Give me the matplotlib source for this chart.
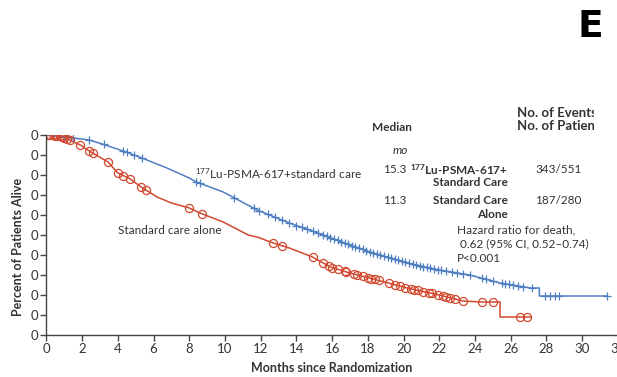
import numpy as np
import matplotlib
matplotlib.use("Agg")
import matplotlib.pyplot as plt
from matplotlib.transforms import Bbox, TransformedBbox

plt.rcParams['font.family'] = ['Lato', 'DejaVu Sans']
plt.rcParams['mathtext.default'] = 'regular'

# Kaplan-Meier curves (months, percent alive)
lu_months = [0, 0.8, 1.5, 2.4, 3.3, 4.3, 5.35, 6.75, 8.0, 8.4, 9.9, 11.8, 13.6,
             15.5, 16.4, 17.0, 18.3, 20.2, 22.0, 23.7, 25.4, 27.1, 27.6, 27.6, 31.4]
lu_pct = [100, 99.5, 98.5, 97.5, 95, 92, 88.5, 83.5, 78.5, 76.5, 71.5, 62.5, 56,
          50, 47, 45, 41, 36, 32.5, 30, 26, 23.5, 23.5, 19.5, 19.5]

sc_months = [0, 0.8, 1.3, 1.9, 2.4, 3.45, 4.0, 4.7, 5.3, 6.2, 7.0, 8.0, 8.6, 9.9,
             11.3, 11.8, 12.7, 13.6, 14.9, 15.9, 16.8, 18.3, 20.2, 22.0, 23.3,
             24.4, 25.4, 25.4, 27.1]
sc_pct = [100, 99.5, 97.5, 95, 92, 86.5, 81, 78, 74, 69, 66, 63.5, 61, 56.5,
          50, 49, 46, 43.5, 39, 34, 31.5, 28, 23.5, 20, 17, 16.5, 16.5, 9, 9]

# censoring times
lu_censor = [0.3, 0.6, 1.0, 1.5, 2.4, 3.2, 4.3, 4.5, 4.9, 5.35, 8.4, 8.6,
             10.5, 11.6, 11.9, 12.4, 12.8, 13.2, 13.6, 14.0, 14.3, 14.6, 14.9,
             15.2, 15.5, 15.7, 15.9, 16.1, 16.3, 16.5, 16.7, 16.9, 17.1, 17.3,
             17.5, 17.7, 17.9, 18.1, 18.3, 18.5, 18.7, 18.9, 19.1, 19.3, 19.5,
             19.7, 19.9, 20.1, 20.3, 20.5, 20.7, 20.9, 21.1, 21.3, 21.5, 21.7,
             21.9, 22.1, 22.4, 22.7, 23.0, 23.3, 23.7, 24.4, 24.6, 25.0, 25.5,
             25.7, 25.9, 26.1, 26.4, 26.7, 27.2, 27.9, 28.2, 28.5, 28.7, 31.4]
sc_censor = [0.1, 0.2, 0.35, 0.5, 0.6, 0.75, 0.9, 1.0, 1.15, 1.3, 1.9, 2.4,
             2.6, 3.45, 4.0, 4.3, 4.7, 5.3, 5.6, 8.0, 8.7, 12.7, 13.2, 14.9,
             15.5, 15.8, 16.0, 16.3, 16.7, 16.8, 17.2, 17.4, 17.7, 18.0, 18.2,
             18.4, 18.6, 19.2, 19.5, 19.8, 20.1, 20.4, 20.6, 20.8, 21.1, 21.4,
             21.6, 21.9, 22.2, 22.4, 22.6, 22.9, 23.3, 24.4, 25.0, 26.5, 26.9]

x_ticks = list(range(0, 33, 2))
y_ticks = list(range(0, 101, 10))
y_tick_labels = ['0'] * len(y_ticks)

blue = '#4f7fc3'
red = '#d2492f'
txt = '#333333'

W, H = 617, 377
fig = plt.figure(figsize=(W / 100, H / 100), dpi=100)
ax = fig.add_axes([46.4 / W, 42 / H, 571.5 / W, 200 / H])


def px(x, y):
    return x / W, 1 - y / H


ax.plot(lu_months, lu_pct, color=blue, lw=1.1)
ax.plot(sc_months, sc_pct, color=red, lw=1.1)
ax.plot(lu_censor, np.interp(lu_censor, lu_months, lu_pct), ls='none',
        marker='+', ms=6, mew=0.9, color=blue)
ax.plot(sc_censor, np.interp(sc_censor, sc_months, sc_pct), ls='none',
        marker='o', ms=5.8, mew=0.9, mfc='none', mec=red)

ax.set_xlim(0, 32)
ax.set_ylim(0, 100)
ax.set_xticks(x_ticks)
ax.set_yticks(y_ticks)
ax.set_yticklabels(y_tick_labels)
for s in ['top', 'right']:
    ax.spines[s].set_visible(False)
for s in ['left', 'bottom']:
    ax.spines[s].set_color('#444444')
    ax.spines[s].set_linewidth(1.0)
ax.tick_params(direction='out', length=4, width=1, colors='#444444',
               labelsize=9.5, labelcolor=txt, pad=2)

fig.text(*px(332, 368), 'Months since Randomization', ha='center', va='center',
         fontsize=9, fontweight='bold', color=txt)
fig.text(*px(18.5, 247), 'Percent of Patients Alive', ha='center', va='center',
         rotation=90, fontsize=9, fontweight='bold', color=txt)

fig.text(*px(590, 27), 'E', ha='center', va='center', fontsize=27,
         fontweight='bold', color='black', family='DejaVu Sans')

# curve labels
fig.text(*px(195, 174), '$^{177}$Lu-PSMA-617+standard care', ha='left',
         va='center', fontsize=8.5, color=txt)
fig.text(*px(118, 230), 'Standard care alone', ha='left', va='center',
         fontsize=8.5, color=txt)

# table
fig.text(*px(372, 128), 'Median', ha='left', va='center', fontsize=8.5,
         fontweight='bold', color=txt)
hdr = fig.text(*px(517, 119), 'No. of Events/\nNo. of Patients', ha='left',
               va='center', fontsize=9.5, fontweight='bold', color=txt,
               linespacing=1.1, clip_on=True)
hdr.set_clip_box(TransformedBbox(Bbox.from_extents(0, 0, 594 / W, 1),
                                 fig.transFigure))
fig.text(*px(393, 150), 'mo', ha='left', va='center', fontsize=8.5,
         style='italic', color=txt)
fig.text(*px(383, 170), '15.3', ha='left', va='center', fontsize=8.5, color=txt)
fig.text(*px(383, 201), '11.3', ha='left', va='center', fontsize=8.5, color=txt)
fig.text(*px(508, 170), '$^{177}$Lu-PSMA-617+', ha='right', va='center',
         fontsize=8.5, fontweight='bold', color=txt)
fig.text(*px(508, 183), 'Standard Care', ha='right', va='center',
         fontsize=8.5, fontweight='bold', color=txt)
fig.text(*px(508, 201), 'Standard Care', ha='right', va='center',
         fontsize=8.5, fontweight='bold', color=txt)
fig.text(*px(508, 215), 'Alone', ha='right', va='center',
         fontsize=8.5, fontweight='bold', color=txt)
fig.text(*px(535, 170), '343/551', ha='left', va='center', fontsize=8.5, color=txt)
fig.text(*px(535, 201), '187/280', ha='left', va='center', fontsize=8.5, color=txt)
fig.text(*px(457, 230), 'Hazard ratio for death,', ha='left', va='center',
         fontsize=8.5, color=txt)
fig.text(*px(460, 244), '0.62 (95% CI, 0.52\u20130.74)', ha='left', va='center',
         fontsize=8.5, color=txt)
fig.text(*px(457, 259), 'P<0.001', ha='left', va='center', fontsize=8.5,
         color=txt)

fig.savefig('out.png', dpi=100)
